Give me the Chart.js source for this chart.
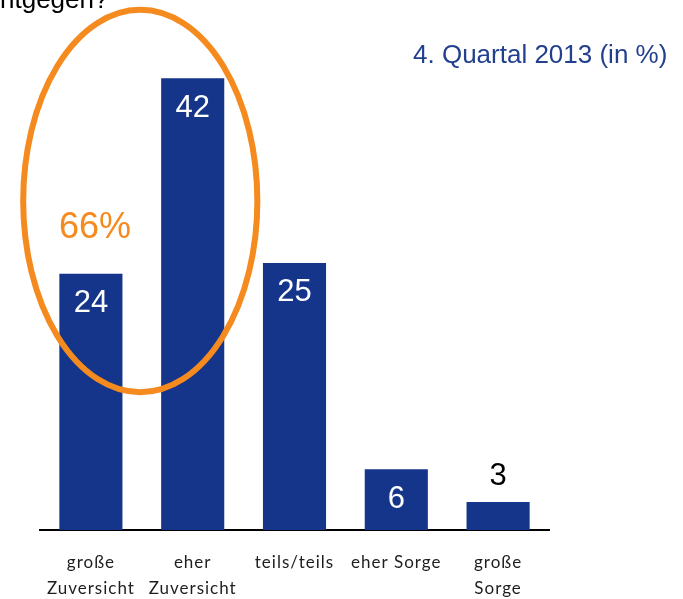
<!DOCTYPE html>
<html>
<head>
<meta charset="utf-8">
<script src="https://cdn.jsdelivr.net/npm/chart.js@4"></script>
<style>
  html, body { margin: 0; padding: 0; background: #fff; }
  #wrap { width: 683px; height: 599px; position: relative; }
</style>
</head>
<body>
<div id="wrap"><canvas id="chart"></canvas></div>
<script>
// data
var categories = [["große", "Zuversicht"], ["eher", "Zuversicht"], ["teils/teils"], ["eher Sorge"], ["große", "Sorge"]];
var values = [24, 42, 25, 6, 3];
var labelInside = [true, true, true, true, false];
var seriesTitle = "4. Quartal 2013 (in %)";
var questionTail = "ntgegen?";
var highlightText = "66%";

var barColor = "#14358a";
var orange = "#f58a1f";

// value axis range
var yMin = 0.42;
var yMax = 49.2;

// ellipse round the first two bars, in axis units
var ring = { x: 0.485, y: 30.7, rx: 1.15, ry: 17.6 };

var tickSpacing = {
  id: "tickSpacing",
  beforeDraw(chart) { chart.ctx.letterSpacing = "1px"; },
  beforeDatasetsDraw(chart) { chart.ctx.letterSpacing = "0px"; }
};

var barLabels = {
  id: "barLabels",
  afterDatasetsDraw(chart) {
    var ctx = chart.ctx;
    var meta = chart.getDatasetMeta(0);
    ctx.save();
    ctx.letterSpacing = "0px";
    ctx.font = "31px 'Liberation Sans', Arial, sans-serif";
    ctx.textAlign = "center";
    ctx.textBaseline = "middle";
    meta.data.forEach((bar, i) => {
      if (labelInside[i]) {
        ctx.fillStyle = "#ffffff";
        var h = bar.base - bar.y;
        ctx.fillText(String(values[i]), bar.x, h > 70 ? bar.y + 30 : (bar.y + bar.base) / 2);
      } else {
        ctx.fillStyle = "#000000";
        ctx.fillText(String(values[i]), bar.x, bar.y - 26);
      }
    });
    ctx.restore();
  }
};

var extras = {
  id: "extras",
  afterDraw(chart) {
    var ctx = chart.ctx;
    var xs = chart.scales.x, ys = chart.scales.y;
    ctx.save();
    ctx.letterSpacing = "0px";
    // highlight ring
    var cx = xs.getPixelForValue(ring.x);
    var cy = ys.getPixelForValue(ring.y);
    var rx = xs.getPixelForValue(ring.x + ring.rx) - cx;
    var ry = cy - ys.getPixelForValue(ring.y + ring.ry);
    ctx.beginPath();
    ctx.ellipse(cx, cy, rx, ry, 0, 0, Math.PI * 2);
    ctx.lineWidth = 6;
    ctx.strokeStyle = orange;
    ctx.stroke();
    // 66%
    ctx.font = "36px 'Liberation Sans', Arial, sans-serif";
    ctx.fillStyle = orange;
    ctx.textAlign = "center";
    ctx.textBaseline = "middle";
    ctx.fillText(highlightText, 95, 228);
    // series title
    ctx.font = "26px 'Liberation Sans', Arial, sans-serif";
    ctx.fillStyle = "#22408f";
    ctx.textAlign = "left";
    ctx.fillText(seriesTitle, 413, 56);
    // cut off question text
    ctx.fillStyle = "#000000";
    ctx.textBaseline = "alphabetic";
    ctx.fillText(questionTail, 0, 8);
    ctx.restore();
  }
};

new Chart(document.getElementById("chart"), {
  type: "bar",
  data: {
    labels: categories,
    datasets: [{
      data: values,
      base: yMin,
      backgroundColor: barColor,
      barPercentage: 0.62,
      categoryPercentage: 1.0
    }]
  },
  options: {
    responsive: true,
    maintainAspectRatio: false,
    animation: false,
    layout: { padding: { left: 40, right: 134, top: 0, bottom: 0 } },
    plugins: {
      legend: { display: false },
      tooltip: { enabled: false }
    },
    scales: {
      x: {
        offset: true,
        grid: { display: false, drawTicks: false },
        border: { display: true, color: "#000000", width: 2 },
        ticks: {
          color: "#1e1e1e",
          padding: 20,
          maxRotation: 0,
          autoSkip: false,
          font: { family: "Lato, 'Noto Sans', sans-serif", size: 17, lineHeight: 1.5 }
        },
        afterFit: (s) => { s.height = 69; }
      },
      y: {
        display: false,
        min: yMin,
        max: yMax
      }
    }
  },
  plugins: [tickSpacing, barLabels, extras]
});
</script>
</body>
</html>
